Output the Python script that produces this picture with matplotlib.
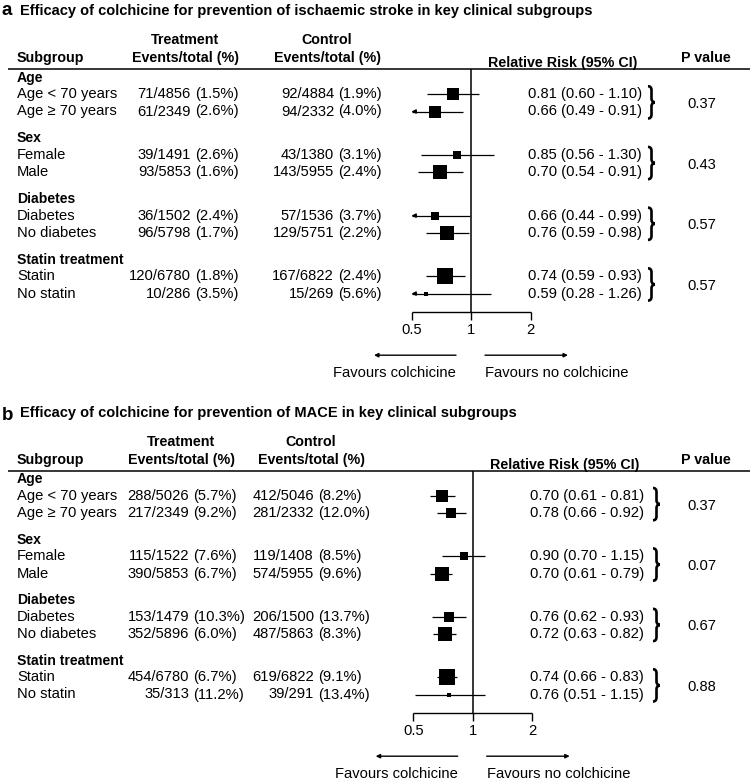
import matplotlib
matplotlib.use('Agg')
import matplotlib.pyplot as plt
import numpy as np
from matplotlib.path import Path
from matplotlib.patches import PathPatch

plt.rcParams['font.family'] = ['Liberation Sans', 'DejaVu Sans']

# ---------------- data ----------------
groups = ['Age', 'Sex', 'Diabetes', 'Statin treatment']
subgroups = ['Age < 70 years', 'Age \u2265 70 years', 'Female', 'Male',
             'Diabetes', 'No diabetes', 'Statin', 'No statin']

a_title = 'Efficacy of colchicine for prevention of ischaemic stroke in key clinical subgroups'
a_trt_events = [71, 61, 39, 93, 36, 96, 120, 10]
a_trt_total = [4856, 2349, 1491, 5853, 1502, 5798, 6780, 286]
a_ctl_events = [92, 94, 43, 143, 57, 129, 167, 15]
a_ctl_total = [4884, 2332, 1380, 5955, 1536, 5751, 6822, 269]
a_rr = [0.81, 0.66, 0.85, 0.70, 0.66, 0.76, 0.74, 0.59]
a_lo = [0.60, 0.49, 0.56, 0.54, 0.44, 0.59, 0.59, 0.28]
a_hi = [1.10, 0.91, 1.30, 0.91, 0.99, 0.98, 0.93, 1.26]
a_p = ['0.37', '0.43', '0.57', '0.57']

b_title = 'Efficacy of colchicine for prevention of MACE in key clinical subgroups'
b_trt_events = [288, 217, 115, 390, 153, 352, 454, 35]
b_trt_total = [5026, 2349, 1522, 5853, 1479, 5896, 6780, 313]
b_ctl_events = [412, 281, 119, 574, 206, 487, 619, 39]
b_ctl_total = [5046, 2332, 1408, 5955, 1500, 5863, 6822, 291]
b_rr = [0.70, 0.78, 0.90, 0.70, 0.76, 0.72, 0.74, 0.76]
b_lo = [0.61, 0.66, 0.70, 0.61, 0.62, 0.63, 0.66, 0.51]
b_hi = [0.81, 0.92, 1.15, 0.79, 0.93, 0.82, 0.83, 1.15]
b_p = ['0.37', '0.07', '0.67', '0.88']

axis_ticks = [0.5, 1, 2]
axis_tick_labels = ['0.5', '1', '2']

# ---------------- figure ----------------
W, H = 750, 780
fig = plt.figure(figsize=(W / 100, H / 100), dpi=100)
fig.patch.set_facecolor('white')
ov = fig.add_axes([0, 0, 1, 1])
ov.set_xlim(0, W)
ov.set_ylim(H, 0)
ov.axis('off')

FS = 10.6      # body text
FSH = 10.3     # header text


def brace(ax, x, ytop, ybot, w=7.0):
    xm = x + w * 0.5
    ymid = (ytop + ybot) / 2
    q = 4.0
    verts = [(x, ytop), (xm, ytop), (xm, ytop + q),
             (xm, ymid - q),
             (xm, ymid), (xm + w * 0.5, ymid), (x + w, ymid),
             (xm + w * 0.5, ymid), (xm, ymid), (xm, ymid + q),
             (xm, ybot - q),
             (xm, ybot), (x, ybot)]
    codes = [Path.MOVETO, Path.CURVE3, Path.CURVE3,
             Path.LINETO,
             Path.CURVE4, Path.CURVE4, Path.CURVE4,
             Path.CURVE4, Path.CURVE4, Path.CURVE4,
             Path.LINETO,
             Path.CURVE3, Path.CURVE3]
    ax.add_patch(PathPatch(Path(verts, codes), fill=False, lw=1.9,
                           color='black', capstyle='butt'))


def panel(label, title, te, tt, ce, ct, rr, lo, hi, pvals, L):
    row0, gap, sub = L['row0'], L['gap'], L['sub']
    uy = row0 - 25
    # title
    ov.text(2, row0 - 83.5 + L['label_dy'], label, fontsize=13.5, fontweight='bold',
            ha='left', va='center')
    ov.text(20, row0 - 83.5, title, fontsize=10.5, fontweight='bold',
            ha='left', va='center')
    # headers
    h1, h2 = row0 - 54, row0 - 36
    ov.text(L['hdr_trt'], h1, 'Treatment', fontsize=FSH, fontweight='bold', ha='center', va='center')
    ov.text(L['hdr_trt'], h2, 'Events/total (%)', fontsize=FSH, fontweight='bold', ha='center', va='center')
    ov.text(L['hdr_ctl'], h1, 'Control', fontsize=FSH, fontweight='bold', ha='center', va='center')
    ov.text(L['hdr_ctl'], h2, 'Events/total (%)', fontsize=FSH, fontweight='bold', ha='center', va='center')
    ov.text(17, h2, 'Subgroup', fontsize=FSH, fontweight='bold', ha='left', va='center')
    ov.text(L['rr_hdr_x'], h2 + 4.5, 'Relative Risk (95% CI)', fontsize=FSH, fontweight='bold',
            ha='left', va='center')
    ov.text(706, h2, 'P value', fontsize=FSH, fontweight='bold', ha='center', va='center')
    ov.plot([8, W], [uy] * 2, color='black', lw=1.1, solid_capstyle='butt')

    # forest axes (log scale)
    c, ppo = L['center'], L['ppo']
    x0, x1 = 360, 640
    fa = fig.add_axes([x0 / W, 0, (x1 - x0) / W, 1])
    fa.set_xscale('log')
    fa.set_xlim(2 ** ((x0 - c) / ppo), 2 ** ((x1 - c) / ppo))
    fa.set_ylim(H, 0)
    fa.axis('off')
    fa.patch.set_alpha(0)

    te, tt, ce, ct = map(np.asarray, (te, tt, ce, ct))
    var = 1 / te - 1 / tt + 1 / ce - 1 / ct
    wts = 1 / var
    side = 11.2 * np.sqrt(wts / wts.max())  # points

    ys = []
    for g, gname in enumerate(groups):
        yh = row0 + g * gap - 16.5
        ov.text(17, yh, gname, fontsize=10.1, fontweight='bold', ha='left', va='center')
        for i in range(2):
            k = 2 * g + i
            y = row0 + g * gap + i * sub
            ys.append(y)
            ov.text(17, y, subgroups[k], fontsize=FS, ha='left', va='center')
            ov.text(L['trt_x'], y, f'{te[k]}/{tt[k]}', fontsize=FS, ha='right', va='center')
            ov.text(L['trt_x'] + 4, y, f'({100 * te[k] / tt[k]:.1f}%)', fontsize=FS, ha='left', va='center')
            ov.text(L['ctl_x'], y, f'{ce[k]}/{ct[k]}', fontsize=FS, ha='right', va='center')
            ov.text(L['ctl_x'] + 4, y, f'({100 * ce[k] / ct[k]:.1f}%)', fontsize=FS, ha='left', va='center')
            ov.text(L['rr_x'], y, f'{rr[k]:.2f} ({lo[k]:.2f} - {hi[k]:.2f})', fontsize=FS,
                    ha='left', va='center')
            # CI
            lo_c = max(lo[k], axis_ticks[0])
            hi_c = min(hi[k], axis_ticks[-1])
            fa.plot([lo_c, hi_c], [y, y], color='black', lw=0.9, solid_capstyle='butt')
            if lo[k] < axis_ticks[0]:
                fa.annotate('', xy=(axis_ticks[0], y), xytext=(axis_ticks[0] * 1.06, y),
                            arrowprops=dict(arrowstyle='-|>', color='black', lw=0.9,
                                            mutation_scale=6, shrinkA=0, shrinkB=0))
            fa.plot([rr[k]], [y], marker='s', ms=side[k], color='black', mec='black', mew=0)
        ya, yb = ys[-2], ys[-1]
        brace(ov, L['brace_x'], ya - 8, yb + 7)
        ov.text(702, (ya + yb) / 2 + 1, pvals[g], fontsize=FS, ha='center', va='center')

    # axis
    ax_y = L['axis_y']
    fa.plot([axis_ticks[0], axis_ticks[-1]], [ax_y, ax_y], color='black', lw=1.0, solid_capstyle='butt')
    fa.vlines(axis_ticks, ax_y, ax_y + 8, color='black', lw=1.0)
    fa.vlines([1], uy, ax_y, color='black', lw=1.1)
    for t, tl in zip(axis_ticks, axis_tick_labels):
        fa.text(t, ax_y + 18, tl, fontsize=FS, ha='center', va='center')

    # favours arrows
    ay = ax_y + 43.5
    ov.annotate('', xy=(c - 97, ay), xytext=(c - 15, ay),
                arrowprops=dict(arrowstyle='-|>', color='black', lw=1.0, mutation_scale=6,
                                shrinkA=0, shrinkB=0))
    ov.annotate('', xy=(c + 97, ay), xytext=(c + 14, ay),
                arrowprops=dict(arrowstyle='-|>', color='black', lw=1.0, mutation_scale=6,
                                shrinkA=0, shrinkB=0))
    ov.text(c - 15, ay + 18, 'Favours colchicine', fontsize=FS, ha='right', va='center')
    ov.text(c + 14, ay + 18, 'Favours no colchicine', fontsize=FS, ha='left', va='center')


LA = dict(label_dy=0, row0=94.2, gap=60.7, sub=17.3, axis_y=311.7,
          center=471.0, ppo=59.5, trt_x=191, ctl_x=334, rr_x=528, rr_hdr_x=488,
          brace_x=648, hdr_trt=185, hdr_ctl=327)
LB = dict(label_dy=3, row0=496.0, gap=60.4, sub=17.3, axis_y=712.7,
          center=472.7, ppo=59.5, trt_x=189, ctl_x=314, rr_x=530, rr_hdr_x=490,
          brace_x=653, hdr_trt=181, hdr_ctl=311)

panel('a', a_title, a_trt_events, a_trt_total, a_ctl_events, a_ctl_total,
      a_rr, a_lo, a_hi, a_p, LA)
panel('b', b_title, b_trt_events, b_trt_total, b_ctl_events, b_ctl_total,
      b_rr, b_lo, b_hi, b_p, LB)

fig.savefig('out.png', dpi=100, facecolor='white')
